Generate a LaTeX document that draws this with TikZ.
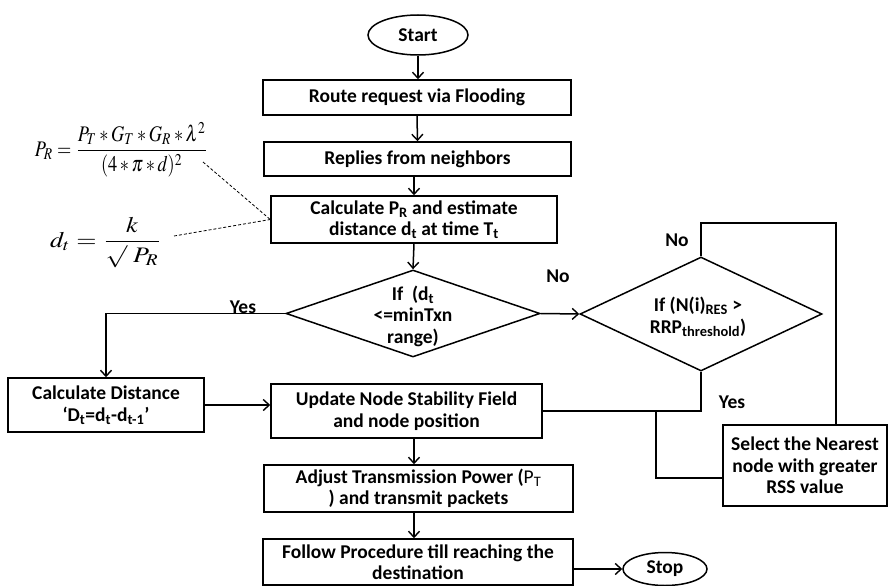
\documentclass[tikz,border=0pt]{standalone}
\usepackage{mathptmx}
\usepackage[no-math]{fontspec}
\setmainfont{Carlito}
\usepackage{graphicx}
\usetikzlibrary{shapes.geometric,arrows.meta}
\tikzset{
  base/.style={draw,line width=1.5pt,inner sep=0pt,align=center,font=\bfseries\fontsize{19.5}{21.5}\selectfont},
  box/.style={base,rectangle},
  term/.style={base,ellipse},
  dia/.style={draw,line width=1.5pt,diamond,inner sep=0pt},
  txt/.style={align=center,font=\bfseries\fontsize{19.5}{21.5}\selectfont,inner sep=0pt},
  lbl/.style={font=\bfseries\fontsize{19.5}{21.5}\selectfont,inner sep=0pt},
  arr/.style={line width=1.5pt,-{Straight Barb[length=6pt,width=11pt,line width=1.4pt]}},
  thinline/.style={line width=1.1pt},
  dashline/.style={line width=0.8pt,dash pattern=on 3pt off 2pt},
}
\begin{document}
\begin{tikzpicture}[x=1pt,y=-1pt]
\useasboundingbox (0,0) rectangle (889,586);
% nodes
\node[term,minimum width=100pt,minimum height=40pt] (start) at (418,35) {Start};
\node[box,minimum width=308pt,minimum height=35pt] (route) at (417,97.5) {Route request via Flooding};
\node[box,minimum width=307pt,minimum height=34pt] (replies) at (417.5,159) {Replies from neighbors};
\node[box,minimum width=286pt,minimum height=47pt] (calc) at (414,219.5) {Calculate P\textsubscript{R} and estimate\\distance d\textsubscript{t} at time T\textsubscript{t}};
\node[dia,minimum width=254pt,minimum height=87pt] (d1) at (413,313.5) {};
\node[txt] (d1t) at (413,316) {If~~(d\textsubscript{t}\\<=minTxn\\range)};
\node[dia,minimum width=242pt,minimum height=114pt] (d2) at (701,314) {};
\node[txt] (d2t) at (698,317) {If (N(i)\textsubscript{RES} >\\RRP\textsubscript{threshold})};
\node[box,minimum width=196pt,minimum height=54pt] (cdist) at (106,405) {Calculate Distance\\‘D\textsubscript{t}=d\textsubscript{t}-d\textsubscript{t-1}’};
\node[box,minimum width=271pt,minimum height=54pt] (upd) at (406.5,411) {Update Node Stability Field\\and node position};
\node[box,minimum width=309pt,minimum height=47pt] (adj) at (418.5,488.5) {Adjust Transmission Power (\mdseries P\textsubscript{T}\\) and transmit packets};
\node[box,minimum width=310pt,minimum height=46pt] (fol) at (418,562) {Follow Procedure till reaching the\\destination};
\node[term,minimum width=84pt,minimum height=33pt] (stop) at (665,569) {Stop};
\node[box,minimum width=164pt,minimum height=81pt] (sel) at (805,465.5) {Select the Nearest\\node with greater\\RSS value};
% formulas
\node[inner sep=0pt] (pr) at (121.5,149.5) {\resizebox*{173pt}{55pt}{$\displaystyle P_R=\frac{P_T*G_T*G_R*\lambda^2}{(4*\pi*d)^2}$}};
\node[inner sep=0pt] (dt) at (106,242.5) {\resizebox*{112pt}{51pt}{$\displaystyle d_t=\frac{k}{\surd\ P_R}$}};
% labels
\node[lbl] (yes1) at (243,307) {Yes};
\node[lbl] (no1) at (558,276) {No};
\node[lbl] (no2) at (677,240) {No};
\node[lbl] (yes2) at (732,402) {Yes};
% coordinates
\coordinate (col) at (414,0);
\coordinate (br) at (656,411);
\coordinate (c1) at (203,162);
\coordinate (c2) at (174,236);
% connectors
\draw[arr] (start.south) -- (start.south |- route.north);
\draw[arr] (route.south) -- (replies.north);
\draw[arr] (replies.south -| calc.north) -- (calc.north);
\draw[arr] (calc.south) -- (d1.north);
\draw[arr] (d1.west) -| (cdist.north);
\draw[arr] (d1.east) -- (d2.west);
\draw[arr] (cdist.east) -- (cdist.east -| upd.west);
\draw[thinline] (d2.south) |- (upd.east);
\draw[thinline] (br) |- ([yshift=-12.5pt]sel.west);
\draw[thinline] (d2.north) -- (d2.north |- 0,223) -| ([xshift=31pt]sel.north);
\draw[arr] (upd.south -| col) -- (adj.north -| col);
\draw[arr] (adj.south -| col) -- (fol.north -| col);
\draw[arr] (fol.east |- stop.west) -- (stop.west);
\draw[dashline] (c1) -- (calc.west);
\draw[dashline] (c2) -- (calc.west);
\end{tikzpicture}
\end{document}
